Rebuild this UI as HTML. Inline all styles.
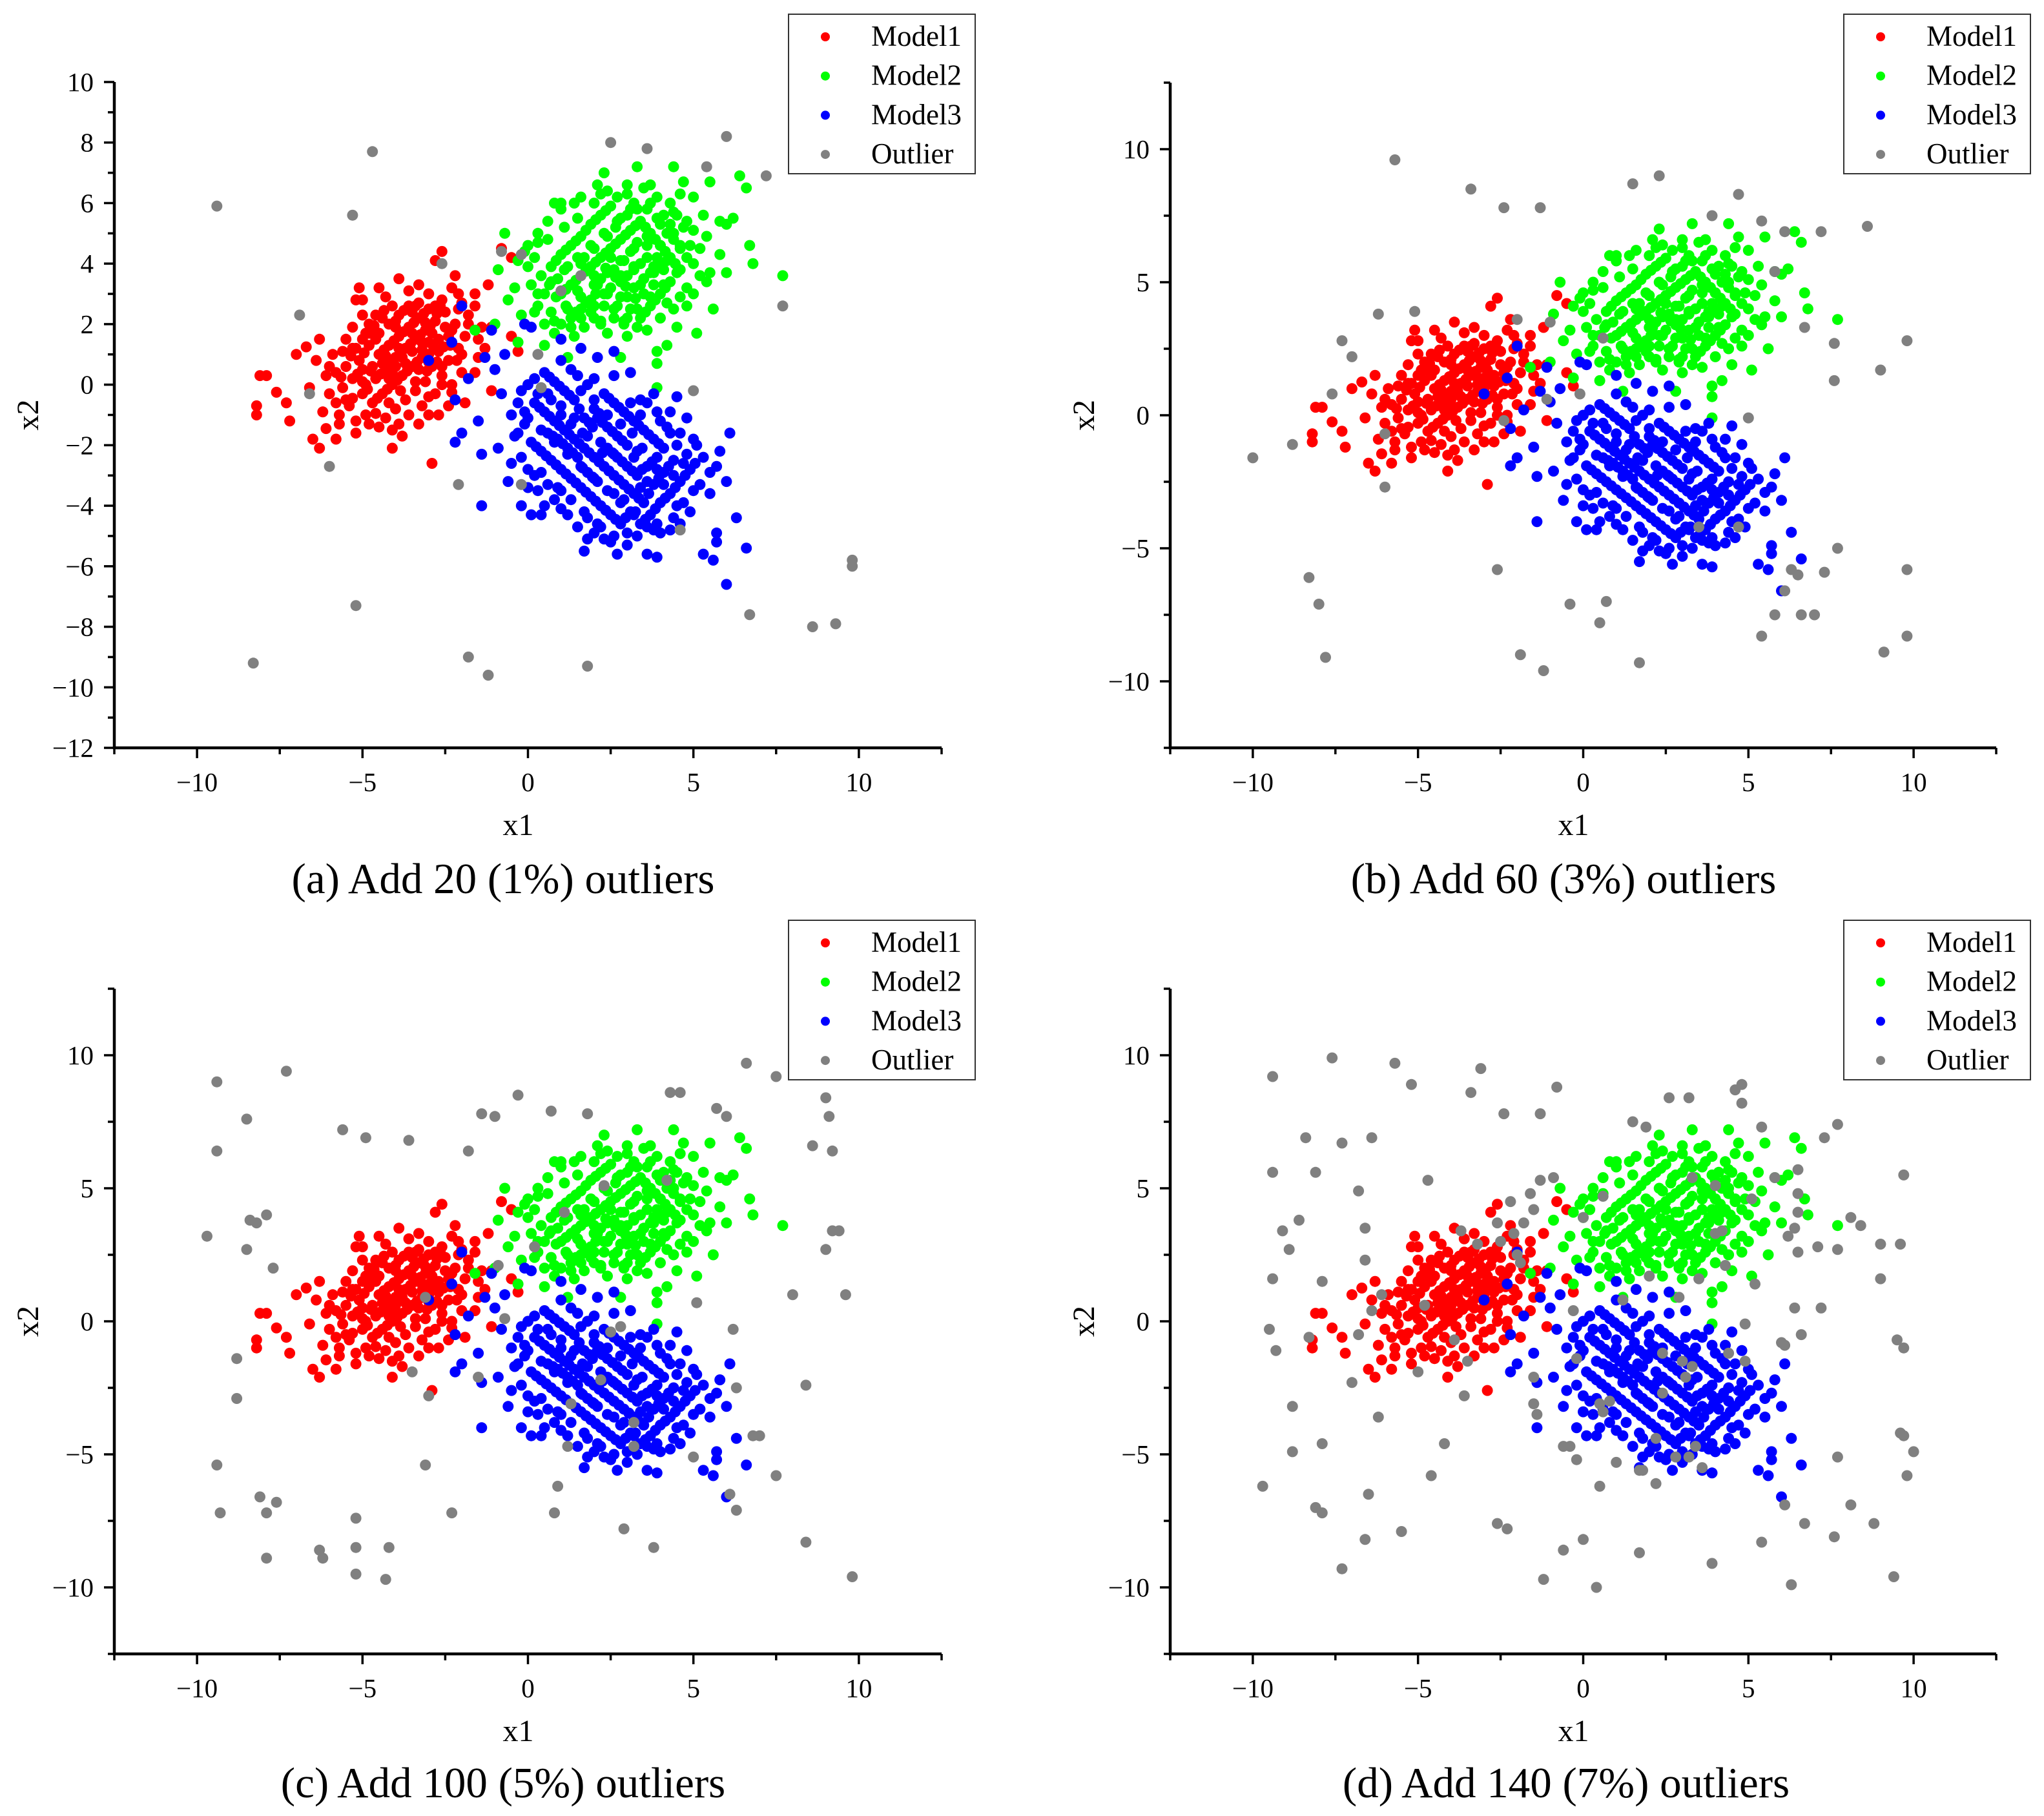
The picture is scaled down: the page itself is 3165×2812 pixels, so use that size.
<!DOCTYPE html>
<html><head><meta charset="utf-8"><style>
html,body{margin:0;padding:0;background:#fff;}
svg{display:block;font-family:"Liberation Serif",serif;}
</style></head><body>
<svg id="fig" width="3165" height="2812" viewBox="0 0 3165 2812" xmlns="http://www.w3.org/2000/svg"></svg>
<script>
// ---- data: shared cluster points (x1,x2 pairs) ----
const model1 = [[-8.2,-1.0],[-8.1,0.3],[-7.9,0.3],[-8.2,-0.7],[-7.6,-0.25],[-7.3,-0.6],[-7.2,-1.2],[-7.0,1.0],[-6.7,1.25],[-6.5,-1.8],[-6.3,-2.1],[-6.3,1.5],[-6.6,-0.1],[-4.1,-2.1],[-2.9,-2.6],[-2.6,4.4],[-2.8,4.1],[-2.2,3.6],[-3.9,3.5],[-4.5,3.2],[-5.1,3.2],[-5.2,2.8],[-5.0,2.8],[-0.8,4.5],[-0.5,4.2],[-1.1,-0.2],[-1.9,-0.6],[-2.7,-1.0],[-3.8,-1.7],[-5.2,-1.6],[-5.8,-1.8],[-6.1,-1.45],[-5.7,-1.0],[-5.5,-0.5],[-5.0,0.1],[-5.3,1.2],[-4.8,1.7],[-4.0,2.1],[-3.4,2.6],[-2.8,2.6],[-2.1,3.0],[-1.6,2.6],[-1.1,1.9],[-0.5,1.6],[-0.3,1.1],[-1.5,0.9],[-1.6,0.4],[-2.3,-0.25],
[-4.6,0.2],[-4.3,0.5],[-4.0,0.9],[-3.7,1.2],[-3.4,1.5],[-3.1,1.8],[-2.8,2.1],[-4.9,0.0],[-4.5,1.0],[-4.2,1.3],[-3.9,1.6],[-3.6,1.9],[-3.3,2.2],[-3.0,1.4],[-2.7,1.1],[-2.4,1.6],[-2.2,2.0],[-2.5,2.4],[-3.5,0.6],[-3.2,0.9],[-2.9,0.6],[-2.6,0.3],[-3.8,0.3],[-4.1,0.0],[-4.4,-0.3],[-4.7,-0.6],[-5.0,-0.3],[-5.3,0.2],[-5.5,0.6],[-5.1,0.8],[-4.8,1.3],[-4.5,1.7],[-4.2,2.0],[-3.9,2.3],[-3.6,2.6],[-3.3,2.7],[-5.6,-0.1],[-5.8,0.4],[-5.2,1.2],[-4.9,1.7],[-4.6,2.3],[-3.1,0.1],[-3.4,-0.2],[-3.7,-0.5],[-4.0,-0.8],[-4.3,-1.1],[-2.4,0.8],[-2.1,1.2],[-1.9,1.6],[-2.0,0.4],[-2.3,0.0],[-2.8,-0.3],[-3.2,-0.7],[-3.6,-1.0],[-4.9,-1.0],[-5.4,-0.7],[-6.0,-0.3],[-6.1,0.3],[-5.9,1.0],[-5.5,1.5],[-4.1,2.6],[-3.0,2.5],[-2.6,2.8],[-2.3,3.2],[-1.8,2.3],[-1.5,1.5],[-1.3,1.2],[-4.4,0.7],[-4.1,0.4],[-3.8,0.9],[-3.5,1.1],[-3.2,1.4],[-2.9,1.7],[-4.7,0.6],[-5.0,0.5],[-3.3,0.5],[-2.7,1.5],[-3.9,1.2],[-4.2,0.2],[-4.6,1.5],[-3.0,1.0],[-2.5,1.9],[-2.0,2.7],[-1.6,3.0],[-1.2,3.3],[-3.6,3.1],[-4.3,2.9],[-5.0,2.3],[-5.3,1.9],[-6.2,-0.9],[-5.7,-1.3],[-4.5,-1.4],[-3.9,-1.3],[-3.0,-1.0],[-2.4,-0.7]];
const model1Core = [[-4.45,0.35],[-4.15,0.7],[-3.85,1.05],[-3.55,1.35],[-3.25,1.65],[-2.95,1.95],[-4.75,0.45],[-4.35,1.15],[-4.05,1.45],[-3.75,1.75],[-3.45,2.05],[-3.15,2.35],[-2.85,1.25],[-2.55,1.25],[-2.3,1.8],[-3.65,0.45],[-3.35,0.75],[-3.05,0.45],[-2.75,0.75],[-3.95,0.15],[-4.25,-0.15],[-4.55,-0.45],[-4.85,-0.15],[-5.15,0.35],[-5.35,0.95],[-4.95,1.05],[-4.65,1.95],[-4.35,2.45],[-3.75,2.45],[-2.75,2.35],[-2.35,1.3],[-2.15,0.8],[-2.6,0.0],[-3.0,-0.4],[-3.4,0.1],[-3.85,-0.2],[-4.2,-0.6],[-4.6,-0.95],[-5.3,-0.45],[-5.65,0.25],[-5.6,1.1],[-5.0,1.5],[-4.0,1.9],[-3.1,2.05],[-2.65,2.6],[-3.5,2.4],[-4.4,2.2],[-4.8,2.0],[-3.2,1.15],[-3.5,1.7],[-4.3,0.95],[-4.0,0.6],[-3.7,0.7],[-3.0,0.75],[-2.6,0.6],[-2.0,1.0],[-1.8,2.0],[-1.4,1.9],[-5.8,-0.6],[-5.2,-1.2],[-4.8,-1.3],[-4.1,-1.5],[-3.3,-1.3],[-6.4,0.8],[-6.0,0.6],[-3.0,3.0],[-3.3,3.3],[-2.1,2.5]];
const model2 = [[-0.7,5.0],[-0.9,3.8],[-0.6,2.8],[-1.0,2.0],[-1.6,1.8],[-0.3,1.4],[0.0,4.6],[0.3,4.7],[0.8,6.0],[1.0,6.0],[1.6,6.2],[2.1,6.6],[2.4,6.4],[3.0,6.6],[3.3,7.2],[3.7,6.6],[4.4,7.2],[4.7,6.7],[5.0,6.2],[5.5,6.7],[6.4,6.9],[6.6,6.5],[6.2,5.5],[6.0,5.3],[5.8,5.4],[6.7,4.6],[6.8,4.0],[7.7,3.6],[5.6,2.5],[5.1,1.7],[4.5,1.9],[4.2,1.3],[3.9,1.1],[3.9,0.7],[3.9,-0.1],[2.8,0.9],[1.2,0.9],[0.5,1.3],[5.4,3.4],[5.5,3.7],[5.0,3.0],[4.8,2.6],[-0.2,2.3],
[1.0,3.0],[1.3,3.3],[1.6,3.6],[1.9,3.9],[2.2,4.2],[2.5,4.5],[2.8,4.8],[3.1,5.1],[3.4,5.4],[3.7,5.0],[4.0,4.6],[4.3,4.2],[4.6,3.8],[4.3,3.4],[4.0,3.0],[3.7,2.6],[3.4,2.2],[3.1,2.5],[2.8,2.9],[2.5,3.2],[2.2,3.5],[1.9,2.8],[1.6,2.5],[1.3,2.2],[1.0,2.0],[0.7,2.4],[0.5,3.0],[0.4,3.6],[0.7,3.9],[1.0,4.3],[1.3,4.6],[1.6,4.9],[1.9,5.3],[2.2,5.6],[2.5,5.9],[2.8,5.5],[3.1,4.4],[3.4,4.0],[3.7,3.7],[3.0,3.6],[2.6,3.8],[2.3,2.6],[2.0,2.2],[1.7,1.9],[2.6,2.2],[2.9,2.0],[3.2,3.2],[3.5,3.0],[3.8,3.3],[4.1,3.8],[4.4,4.8],[4.7,5.2],[4.1,5.6],[3.6,5.8],[3.2,6.0],[2.7,6.2],[2.0,6.0],[1.5,5.5],[1.1,5.2],[0.6,4.8],[0.2,4.2],[0.1,3.3],[0.3,2.6],[0.8,1.7],[1.4,1.6],[2.4,1.7],[3.0,1.6],[3.6,1.8],[4.4,2.5],[4.8,3.2],[5.0,4.0],[5.2,4.5],[4.9,4.6],[2.0,4.5],[2.4,4.9],[1.7,4.2],[2.9,4.1],[3.3,4.7],[3.9,4.2],[2.1,3.3],[1.5,3.1],[0.9,3.5],[3.6,4.6],[4.2,5.0],[4.5,5.6],[3.9,6.2],[2.3,7.0],[1.0,5.8],[0.0,3.9],[-0.4,3.2],[-0.3,4.1],[5.4,4.9],[5.8,4.3],[6.0,3.7],[4.6,6.3],[3.5,6.5]];
const model2Core = [[1.15,3.15],[1.45,3.45],[1.75,3.75],[2.05,4.05],[2.35,4.35],[2.65,4.65],[2.95,4.95],[3.25,5.25],[3.55,5.2],[3.85,4.8],[4.15,4.4],[4.45,4.0],[4.15,3.2],[3.85,2.8],[3.55,2.4],[3.25,2.85],[2.95,3.25],[2.65,3.55],[2.35,3.85],[2.05,3.0],[1.75,2.7],[1.45,2.4],[1.15,2.6],[0.85,2.9],[0.65,3.3],[0.85,4.1],[1.15,4.45],[1.45,4.75],[1.75,5.1],[2.05,5.45],[2.35,5.75],[2.65,5.2],[3.0,5.6],[3.3,5.8],[3.9,5.5],[4.3,5.3],[4.6,4.6],[4.8,4.2],[3.2,3.9],[3.5,3.5],[3.8,3.9],[4.0,4.0],[2.8,3.6],[2.5,4.2],[2.0,3.6],[1.6,4.0],[1.2,3.9],[2.3,3.0],[2.7,2.6],[3.0,2.2],[3.3,1.9],[1.9,2.4],[2.2,2.0],[1.3,1.9],[0.5,2.0],[0.2,2.4],[4.0,2.2],[4.2,2.7],[4.6,2.9],[5.2,3.6],[5.0,5.1],[5.3,5.6],[4.3,6.0],[3.7,6.0],[3.0,6.3],[2.2,6.3],[1.4,6.0],[0.6,5.4],[0.3,5.0],[-0.1,4.4],
[0.8,2.1],[1.2,2.5],[1.6,2.9],[2.0,3.3],[2.4,3.7],[2.8,4.1],[3.2,4.5],[3.6,4.9],[4.0,5.3],[4.4,5.7],[1.6,2.2],[2.0,2.6],[2.4,3.0],[2.8,3.4],[3.2,3.8],[3.6,4.2],[4.0,4.6],[4.4,5.0],[4.8,5.4],[2.2,2.1],[2.6,2.5],[3.0,2.9],[3.4,3.3],[3.8,3.7],[4.2,4.1],[4.6,4.5],[0.3,3.0],[0.7,3.4],[1.1,3.8],[1.5,4.2],[1.9,4.6],[2.3,5.0],[2.7,5.4],[3.1,5.8],[2.9,2.1],[3.3,2.5],[3.7,2.9],[4.1,3.3],[4.5,3.7]];
const model3 = [[-2.0,2.6],[-2.3,1.4],[-1.1,1.8],[-1.3,0.9],[-1.8,0.2],[-2.2,-0.5],[-2.2,-1.9],[-2.0,-1.6],[-1.4,-2.3],[-1.4,-4.0],[-0.2,-4.0],[0.1,-4.3],[-0.4,-1.7],[-0.1,2.0],[0.1,1.9],[-3.0,0.8],[1.7,-5.5],[1.8,-5.1],[2.3,-5.1],[2.7,-5.6],[3.0,-5.3],[3.6,-5.6],[3.9,-5.7],[4.0,-4.9],[5.3,-5.6],[5.6,-5.8],[5.7,-4.9],[5.7,-5.2],[6.0,-6.6],[6.6,-5.4],[6.3,-4.4],[6.0,-3.2],[6.1,-1.6],[5.7,-2.7],[5.8,-2.2],[5.0,-1.8],[4.8,-1.1],[4.5,-0.4],[3.9,-0.9],[3.1,0.4],[2.6,1.1],[2.1,0.9],[1.6,1.2],[1.0,1.5],
[0.2,-0.6],[0.5,-0.9],[0.8,-1.2],[1.1,-1.5],[1.4,-1.8],[1.7,-2.1],[2.0,-2.4],[2.3,-2.7],[2.6,-3.0],[2.9,-3.3],[3.2,-3.6],[3.5,-3.9],[3.8,-3.3],[4.1,-2.9],[4.4,-2.5],[4.1,-2.1],[3.8,-1.8],[3.5,-1.5],[3.2,-1.2],[2.9,-0.9],[2.6,-0.6],[2.3,-0.3],[2.0,-0.8],[1.7,-1.1],[1.4,-0.5],[1.1,-0.2],[0.8,0.1],[0.5,0.4],[0.2,0.2],[-0.2,-0.2],[-0.5,-1.0],[-0.3,-1.6],[0.1,-1.9],[0.4,-2.2],[0.7,-2.5],[1.0,-2.8],[1.3,-3.1],[1.6,-3.4],[1.9,-3.7],[2.2,-4.0],[2.5,-4.3],[2.8,-4.6],[3.1,-4.2],[3.4,-4.6],[3.7,-4.3],[4.0,-3.9],[4.3,-3.6],[4.6,-3.2],[4.9,-2.8],[5.2,-3.3],[4.7,-3.9],[4.4,-4.4],[4.0,-1.2],[3.6,-0.6],[3.0,-2.0],[2.7,-1.7],[2.4,-1.4],[2.1,-1.1],[1.8,-1.7],[1.5,-2.4],[1.2,-2.1],[0.9,-1.8],[0.6,-1.6],[1.8,-2.9],[2.1,-3.2],[2.4,-2.1],[2.7,-2.4],[3.0,-2.7],[3.3,-3.0],[3.6,-2.7],[3.9,-2.4],[3.3,-2.2],[1.0,0.8],[1.5,0.3],[2.0,0.2],[0.0,-2.8],[-0.5,-2.6],[0.3,-3.5],[0.8,-3.8],[1.2,-4.3],[1.5,-4.7],[2.0,-4.9],[2.5,-5.2],[3.3,-5.0],[4.3,-4.8],[4.9,-4.2],[5.3,-2.4],[5.5,-3.6],[4.6,-1.6],[3.8,-0.3],[-0.8,-0.3],[-1.0,0.5],[-0.7,1.0],[-1.5,-1.2],[-0.9,-2.1],[-0.6,-3.2]];
const model3Core = [[0.35,-0.75],[0.65,-1.05],[0.95,-1.35],[1.25,-1.65],[1.55,-1.95],[1.85,-2.25],[2.15,-2.55],[2.45,-2.85],[2.75,-3.15],[3.05,-3.45],[3.35,-3.75],[3.65,-3.6],[3.95,-3.1],[4.25,-2.7],[3.95,-1.95],[3.65,-1.65],[3.35,-1.35],[3.05,-1.05],[2.75,-0.75],[2.45,-0.45],[2.15,-0.95],[1.85,-1.25],[1.55,-0.8],[1.25,-0.35],[0.95,-0.05],[0.65,0.25],[0.0,0.0],[-0.3,-0.6],[-0.1,-1.3],[0.25,-2.05],[0.55,-2.35],[0.85,-2.65],[1.15,-2.95],[1.45,-3.25],[1.75,-3.55],[2.05,-3.85],[2.35,-4.15],[2.65,-4.45],[2.95,-4.4],[3.25,-4.2],[3.55,-4.45],[3.85,-4.1],[4.15,-3.75],[4.45,-3.4],[4.75,-3.0],[5.05,-2.6],[2.85,-1.85],[2.55,-1.55],[2.25,-1.25],[1.95,-1.4],[1.65,-1.6],[1.35,-2.25],[1.05,-1.95],[0.75,-1.7],[1.65,-2.75],[1.95,-3.05],[2.25,-2.25],[2.55,-2.25],[2.85,-2.55],[3.15,-2.85],[3.45,-2.8],[3.75,-2.55],[3.45,-2.1],[3.15,-1.6],[1.3,0.5],[1.8,0.0],[2.6,0.3],[0.2,-3.0],[0.6,-3.3],[1.0,-3.5],[0.5,-4.0],[1.0,-4.1],[1.8,-4.4],[2.2,-4.7],[3.8,-4.8],[4.5,-4.0],[5.0,-3.5],[5.5,-2.9],[4.3,-1.6],[4.3,-0.9],[3.4,-0.5],
[0.0,-1.1],[0.4,-1.5],[0.8,-1.9],[1.2,-2.3],[1.6,-2.7],[2.0,-3.1],[2.4,-3.5],[2.8,-3.9],[3.2,-4.3],[3.6,-4.7],[0.4,-2.9],[0.9,-3.4],[1.3,-3.8],[1.7,-4.2],[2.1,-4.6],[2.6,-5.0],[3.0,-4.9],[0.6,-0.3],[1.0,-0.7],[1.4,-1.1],[2.2,-1.9],[2.6,-2.3],[4.5,-2.0],[4.8,-2.3],[4.2,-1.4],[5.1,-2.0],[4.6,-4.6],[3.9,-4.6],[4.1,-3.3],[4.4,-3.0],[3.6,-3.2],[3.9,-2.8],[4.7,-2.6],[3.4,-3.4],[2.9,-3.8],[2.6,-3.6],[3.2,-2.4],[0.3,-0.3],[0.7,-0.5],[1.0,-1.0],[1.3,-1.3],[1.6,-0.2],[2.0,-0.5],[2.4,-1.0],[2.8,-1.3],[3.1,-0.6],[3.4,-1.0],[-0.1,-0.9],[-0.2,-2.4],[0.0,-3.4],[0.4,-4.3]];
const outliersA = [[-9.4,5.9],[-4.7,7.7],[-5.3,5.6],[-6.9,2.3],[-6.6,-0.3],[-6.0,-2.7],[-2.6,4.0],[-0.8,4.4],[-0.2,4.3],[1.0,3.1],[1.6,3.6],[2.5,8.0],[3.6,7.8],[6.0,8.2],[5.4,7.2],[7.2,6.9],[7.7,2.6],[5.0,-0.2],[0.3,1.0],[0.4,-0.1],[-0.2,-3.3],[-2.1,-3.3],[4.6,-4.8],[9.8,-5.8],[9.8,-6.0],[6.7,-7.6],[8.6,-8.0],[9.3,-7.9],[-5.2,-7.3],[-8.3,-9.2],[-1.8,-9.0],[-1.2,-9.6],[1.8,-9.3]];
const outliersB = [[-5.7,9.6],[-3.4,8.5],[-2.4,7.8],[-1.3,7.8],[1.5,8.7],[2.3,9.0],[4.7,8.3],[3.9,7.5],[5.4,7.3],[6.1,6.9],[7.2,6.9],[8.6,7.1],[9.8,2.8],[9.0,1.7],[7.6,2.7],[7.6,1.3],[6.7,3.3],[5.8,5.4],[-5.1,3.9],[-6.2,3.8],[-7.3,2.8],[-7.0,2.2],[-7.6,0.8],[-6.0,-0.7],[-6.0,-2.7],[-8.3,-6.1],[-8.0,-7.1],[-7.8,-9.1],[-10.0,-1.6],[-8.8,-1.1],[-2.6,-5.8],[-1.9,-9.0],[-1.2,-9.6],[-0.4,-7.1],[0.7,-7.0],[0.5,-7.8],[1.7,-9.3],[5.4,-8.3],[5.8,-7.5],[6.1,-6.6],[6.6,-7.5],[7.0,-7.5],[6.3,-5.8],[6.5,-6.0],[7.3,-5.9],[7.7,-5.0],[9.1,-8.9],[9.8,-8.3],[9.8,-5.8],[5.0,-0.1],[4.7,-4.2],[3.5,-4.2],[-2.0,3.6],[-1.0,3.5],[0.6,2.9],[-0.1,0.8],[-2.4,-0.2],[-1.1,0.6]];
const outliersC = [[-9.4,9.0],[-7.3,9.4],[-8.5,7.6],[-9.4,6.4],[-5.6,7.2],[-4.9,6.9],[-3.6,6.8],[-1.4,7.8],[-1.0,7.7],[-0.3,8.5],[0.7,7.9],[1.8,7.8],[-1.8,6.4],[-9.7,3.2],[-8.4,3.8],[-8.2,3.7],[-7.9,4.0],[-7.7,2.0],[-8.5,2.7],[-8.8,-1.4],[-8.8,-2.9],[-9.4,-5.4],[-9.3,-7.2],[-8.1,-6.6],[-7.6,-6.8],[-7.9,-7.2],[-7.9,-8.9],[-6.3,-8.6],[-6.2,-8.9],[-5.2,-7.4],[-5.2,-8.5],[-4.2,-8.5],[-5.2,-9.5],[-4.3,-9.7],[-2.3,-7.2],[-3.1,-5.4],[-3.0,-2.8],[-1.5,-2.1],[0.8,-7.2],[1.2,-4.7],[2.9,-7.8],[3.8,-8.5],[5.0,-5.1],[6.1,-6.5],[6.3,-7.1],[6.8,-4.3],[7.0,-4.3],[7.5,-5.8],[8.4,-8.3],[8.4,-2.4],[8.0,1.0],[9.8,-9.6],[9.6,1.0],[9.2,3.4],[9.4,3.4],[9.0,2.7],[9.0,8.4],[9.1,7.7],[9.2,6.4],[8.6,6.6],[9.5,9.5],[7.5,9.2],[6.6,9.7],[4.3,8.6],[4.6,8.6],[5.7,8.0],[6.0,7.7],[2.3,5.1],[4.2,5.3],[1.1,4.1],[0.2,2.8],[-0.9,2.1],[-0.7,0.1],[-3.1,0.9],[-3.5,-1.9],[2.2,-2.2],[3.2,-3.8],[3.2,-4.7],[1.3,-3.1],[6.3,-2.5],[5.1,0.7],[2.8,-0.2],[2.5,-0.4],[6.2,-0.3],[0.9,-6.2]];
const outliersD = [[-9.4,9.2],[-7.6,9.9],[-5.7,9.7],[-3.1,9.5],[-5.2,8.9],[-3.4,8.6],[-0.8,8.8],[-2.4,7.8],[-1.3,7.8],[-8.4,6.9],[-7.3,6.7],[-6.4,6.9],[-9.4,5.6],[-8.1,5.6],[-4.7,5.3],[-6.8,4.9],[-8.6,3.8],[-9.1,3.4],[-8.9,2.7],[-6.6,3.5],[-6.6,2.3],[-9.4,1.6],[-7.9,1.5],[-9.5,-0.3],[-9.3,-1.1],[-8.3,-0.6],[-8.8,-3.2],[-7.0,-2.3],[-6.2,-3.6],[-8.8,-4.9],[-7.9,-4.6],[-9.7,-6.2],[-8.1,-7.0],[-7.9,-7.2],[-6.5,-6.5],[-6.6,-8.2],[-5.5,-7.9],[-7.3,-9.3],[-4.6,-5.8],[-4.2,-4.6],[-2.6,-7.6],[-2.3,-7.8],[-1.2,-9.7],[-0.6,-8.6],[0.0,-8.2],[0.4,-10.0],[1.7,-8.7],[3.9,-9.1],[5.4,-8.3],[6.3,-9.9],[6.1,-6.9],[6.7,-7.6],[7.6,-8.1],[8.1,-6.9],[8.8,-7.6],[9.4,-9.6],[9.8,-5.8],[10.0,-4.9],[9.6,-4.2],[9.7,-4.3],[7.7,-5.1],[9.5,-0.7],[9.7,-1.0],[9.0,1.6],[9.0,2.9],[9.6,2.9],[7.2,0.5],[6.4,0.5],[6.6,-0.5],[6.0,-0.8],[6.1,-0.9],[4.9,-0.1],[5.2,1.4],[7.1,2.8],[7.7,2.7],[8.1,3.9],[8.4,3.6],[6.2,3.2],[6.4,3.5],[6.5,2.6],[6.5,4.1],[6.5,4.8],[6.5,5.7],[5.8,5.4],[7.3,6.9],[7.7,7.4],[9.7,5.5],[4.6,8.7],[4.8,8.9],[4.8,8.2],[2.6,8.4],[3.2,8.4],[1.5,7.5],[1.9,7.3],[5.4,7.3],[4.0,5.1],[5.1,4.6],[3.3,5.4],[4.0,3.3],[4.2,3.4],[4.3,2.1],[3.5,1.6],[2.0,1.7],[2.9,0.9],[1.2,0.8],[0.6,4.7],[0.0,3.9],[-0.9,5.4],[-1.3,5.3],[-1.6,4.8],[-1.5,4.2],[-2.2,4.5],[-1.8,3.7],[-2.6,3.7],[-2.1,3.3],[-1.9,2.2],[-2.0,2.5],[-3.7,3.4],[-3.2,2.9],[-2.5,3.0],[-4.8,0.6],[-3.9,-0.7],[-3.5,-1.5],[-3.6,-2.8],[-5.0,-1.9],[-6.1,1.0],[-6.4,0.4],[-6.8,-0.5],[-0.3,0.4],[-0.2,-1.4],[-1.5,-2.1],[-1.5,-3.1],[-1.4,-3.5],[-0.4,-4.7],[-0.6,-4.7],[-0.2,-5.2],[0.5,-3.1],[0.6,-3.4],[0.8,-3.0],[1.0,-5.3],[0.5,-6.2],[1.7,-5.6],[1.8,-5.6],[2.2,-6.1],[2.2,-4.4],[2.4,-1.2],[2.4,-2.7],[3.0,-1.5],[3.1,-2.1],[3.3,-1.7],[2.8,-5.1],[3.2,-5.1],[3.6,-5.5],[3.4,-4.7],[4.4,-1.2],[4.9,-1.5]];
const xTickLabels = [-10,-5,0,5,10];
const yTickLabelsA = [-12,-10,-8,-6,-4,-2,0,2,4,6,8,10];
const yTickLabelsBCD = [-10,-5,0,5,10];
const captions = ["(a) Add 20 (1%) outliers","(b) Add 60 (3%) outliers","(c) Add 100 (5%) outliers","(d) Add 140 (7%) outliers"];
const legendLabels = ["Model1","Model2","Model3","Outlier"];
const colors = ["#ff0000","#00ff00","#0000ff","#808080"];

const NS = "http://www.w3.org/2000/svg";
const svg = document.getElementById("fig");
function mk(tag, attrs, parent){ const e=document.createElementNS(NS,tag); for(const k in attrs) e.setAttribute(k,attrs[k]); parent.appendChild(e); return e; }
function fmt(v){ return v<0 ? "\u2212"+Math.abs(v) : String(v); }

const allM1 = model1.concat(model1Core);
const allM2 = model2.concat(model2Core);
const allM3 = model3.concat(model3Core);

const panels = [
 {id:"a",L:177,R:1458,T:127,B:1158,ymin:-12,ymax:10,yMinor:1,yLabels:yTickLabelsA,out:outliersA,cx:779,capY:1383,lgX:1221,lgY:22},
 {id:"b",L:1812,R:3091,T:128,B:1158,ymin:-12.5,ymax:12.5,yMinor:2.5,yLabels:yTickLabelsBCD,out:outliersB,cx:2421,capY:1383,lgX:2855,lgY:22},
 {id:"c",L:177,R:1458,T:1531,B:2561,ymin:-12.5,ymax:12.5,yMinor:2.5,yLabels:yTickLabelsBCD,out:outliersC,cx:779,capY:2783,lgX:1221,lgY:1425},
 {id:"d",L:1812,R:3091,T:1531,B:2561,ymin:-12.5,ymax:12.5,yMinor:2.5,yLabels:yTickLabelsBCD,out:outliersD,cx:2425,capY:2783,lgX:2855,lgY:1425}
];

panels.forEach((p,i)=>{
  const g = mk("g",{},svg);
  
  
  const xs = v => p.L + (v+12.5)/25*(p.R-p.L);
  const ys = v => p.B - (v-p.ymin)/(p.ymax-p.ymin)*(p.B-p.T);
  const series = [allM1, allM2, allM3, p.out];
  series.forEach((pts,si)=>{
    const sg = mk("g",{fill:colors[si]},g);
    
    
    pts.forEach(pt=>{ mk("circle",{cx:xs(pt[0]).toFixed(1),cy:ys(pt[1]).toFixed(1),r:8.5},sg); });
  });
  const ax = mk("g",{stroke:"#000","stroke-width":4.5,fill:"none"},g);
  
  
  mk("line",{x1:p.L,y1:p.T,x2:p.L,y2:p.B+2},ax);
  mk("line",{x1:p.L-2,y1:p.B,x2:p.R,y2:p.B},ax);
  for(let v=-12.5; v<=12.51; v+=2.5){
    const major = Math.abs(v%5)<1e-6;
    mk("line",{x1:xs(v),y1:p.B,x2:xs(v),y2:p.B+(major?16:10),"stroke-width":3.5},ax);
  }
  for(let v=Math.ceil(p.ymin/p.yMinor)*p.yMinor; v<=p.ymax+1e-6; v+=p.yMinor){
    const major = p.yLabels.some(l=>Math.abs(l-v)<1e-6);
    mk("line",{x1:p.L,y1:ys(v),x2:p.L-(major?16:10),y2:ys(v),"stroke-width":3.5},ax);
  }
  const tl = mk("g",{"font-size":41,fill:"#000"},g);
  
  
  xTickLabels.forEach(v=>{ const t=mk("text",{x:xs(v),y:p.B+67,"text-anchor":"middle"},tl); t.textContent=fmt(v); });
  p.yLabels.forEach(v=>{ const t=mk("text",{x:p.L-32,y:ys(v)+14,"text-anchor":"end"},tl); t.textContent=fmt(v); });
  const xt = mk("text",{x:(p.L+p.R)/2 - 15,y:p.B+135,"font-size":48,"text-anchor":"middle"},g);
  
  
  xt.textContent = "x1";
  const yc = (p.T+p.B)/2;
  const yt = mk("text",{x:p.L-118,y:yc,"font-size":48,"text-anchor":"middle",transform:`rotate(-90 ${p.L-118} ${yc})`},g);
  
  
  yt.textContent = "x2";
  const cap = mk("text",{x:p.cx,y:p.capY,"font-size":67,"text-anchor":"middle"},g);
  
  
  cap.textContent = captions[i];
  const lg = mk("g",{},g);
  
  
  mk("rect",{x:p.lgX,y:p.lgY,width:289,height:247,fill:"#fff",stroke:"#333","stroke-width":2},lg);
  legendLabels.forEach((lab,k)=>{
    const e = mk("g",{},lg);
    
    
    const cy = p.lgY + 35 + k*60.7;
    mk("circle",{cx:p.lgX+57,cy:cy,r:7,fill:colors[k]},e);
    const t = mk("text",{x:p.lgX+128,y:cy+14,"font-size":45,fill:"#000"},e);
    t.textContent = lab;
  });
});
</script>
</body></html>
